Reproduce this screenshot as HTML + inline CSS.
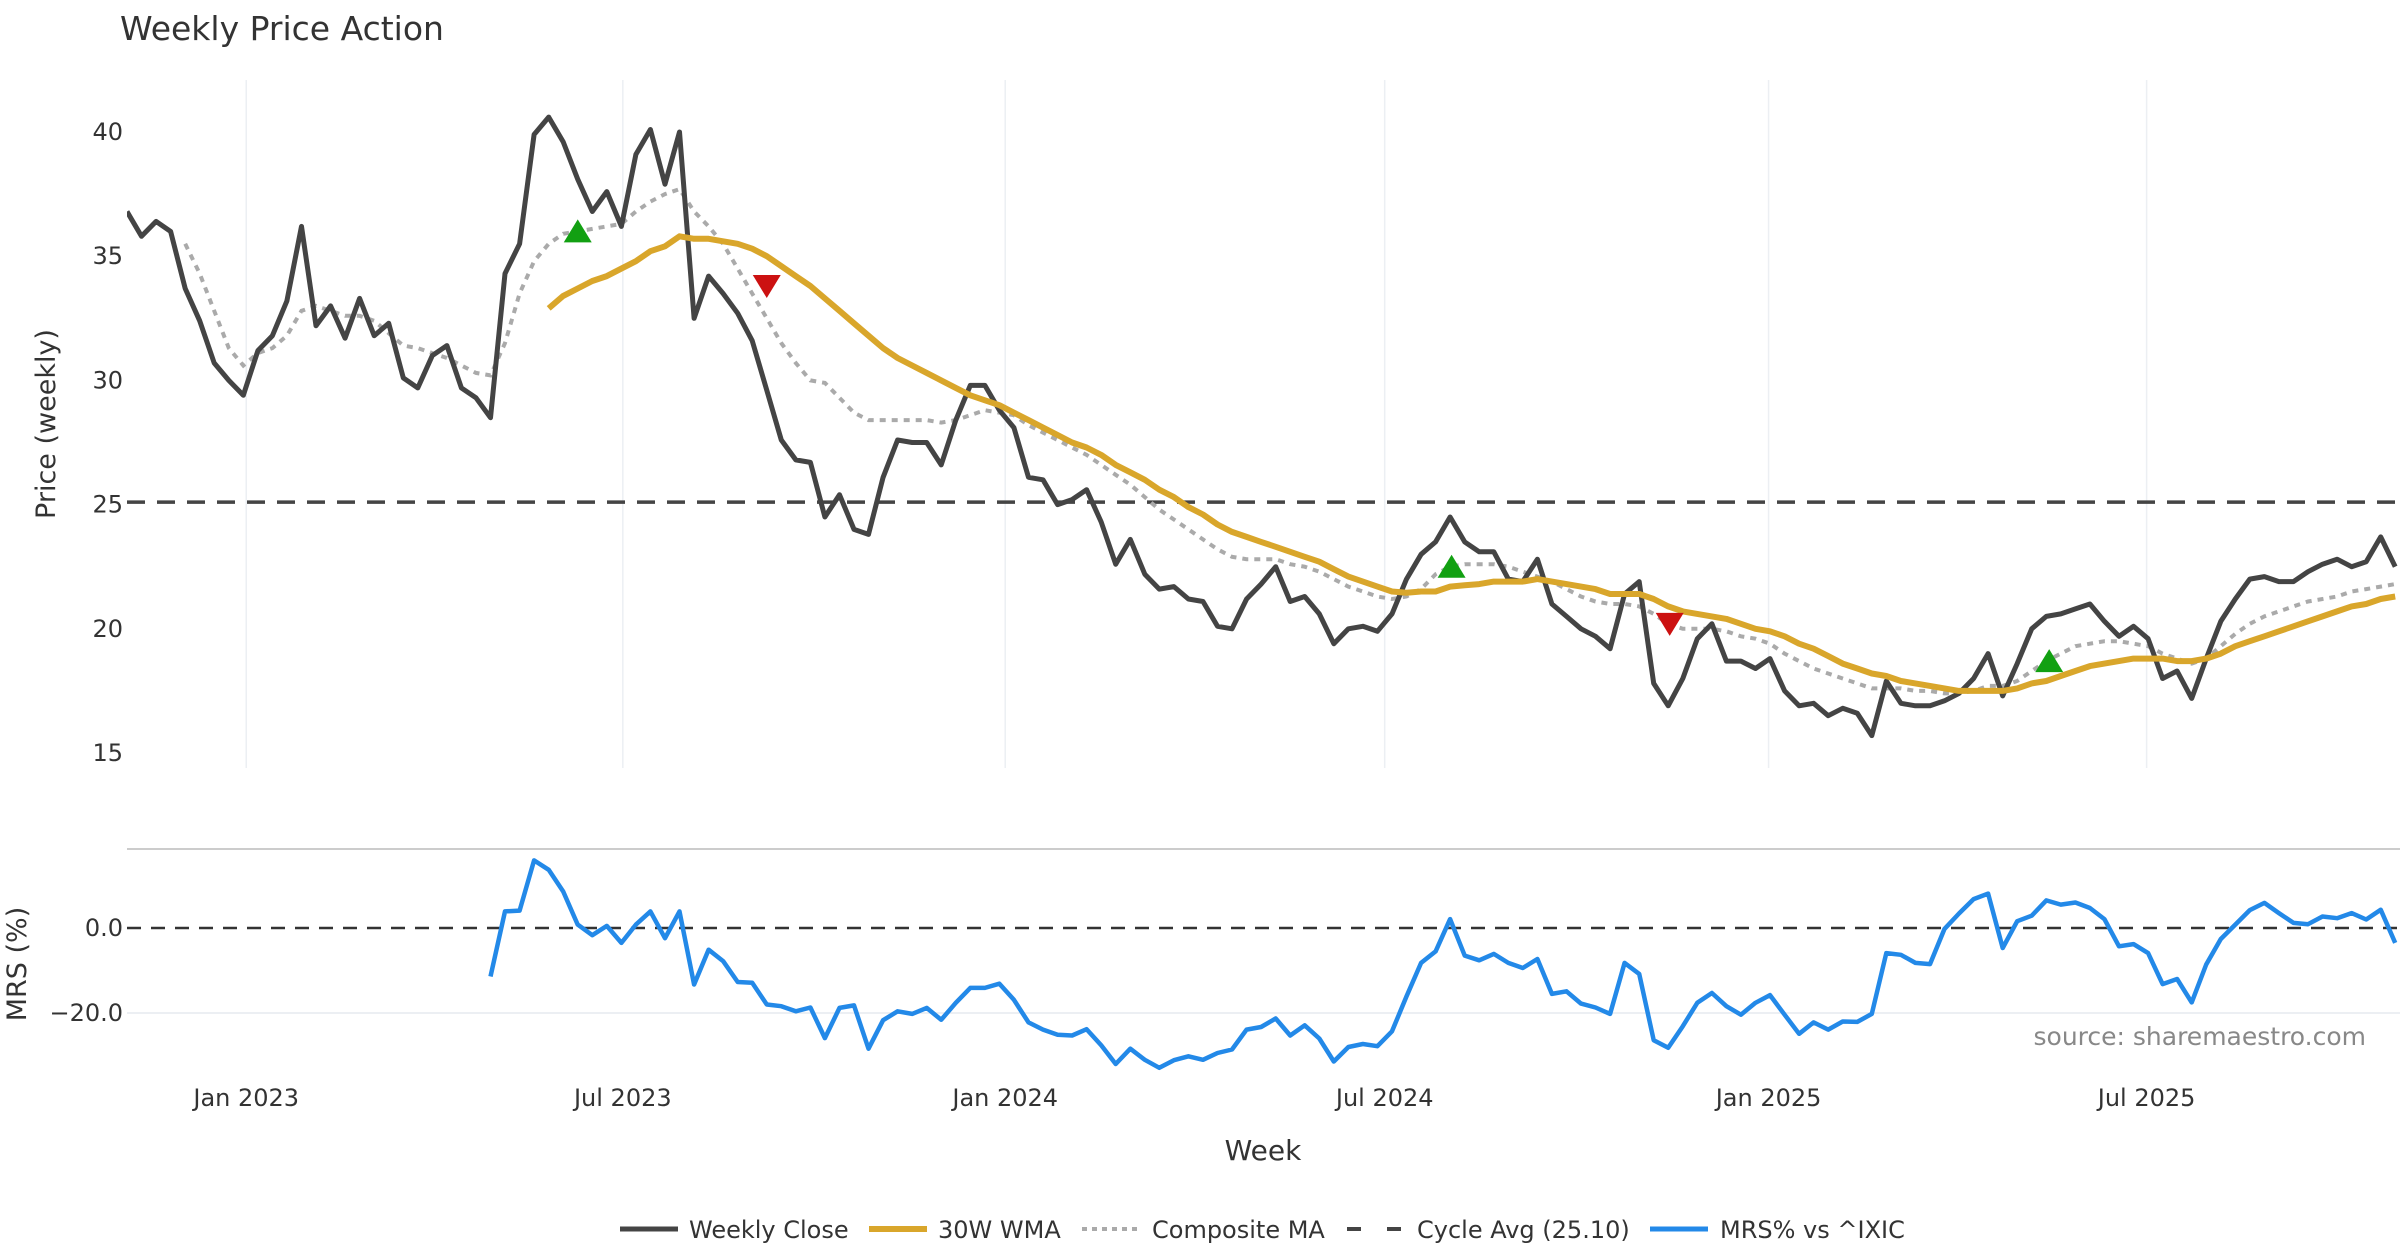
<!DOCTYPE html>
<html><head><meta charset="utf-8"><style>
html,body{margin:0;padding:0;background:#fff;}
svg{display:block;font-family:"DejaVu Sans","Liberation Sans",sans-serif;}
</style></head><body>
<svg id="chart" width="2400" height="1260" viewBox="0 0 2400 1260" xmlns="http://www.w3.org/2000/svg">
<text x="120" y="40" font-size="33" fill="#333">Weekly Price Action</text>
<text transform="translate(55,424) rotate(-90)" text-anchor="middle" font-size="27" fill="#333">Price (weekly)</text>
<text transform="translate(26,964) rotate(-90)" text-anchor="middle" font-size="27" fill="#333">MRS (%)</text>
<text x="1263" y="1160" text-anchor="middle" font-size="28" fill="#333">Week</text>
<text x="2366" y="1045" text-anchor="end" font-size="25" fill="#888">source: sharemaestro.com</text>
<g id="grid"></g><g id="marks"></g><g id="legend"></g>
</svg>
<script>
const closeVals=[36.8,35.8,36.4,36.0,33.7,32.4,30.7,30.0,29.4,31.2,31.8,33.2,36.2,32.2,33.0,31.7,33.3,31.8,32.3,30.1,29.7,31.0,31.4,29.7,29.3,28.5,34.3,35.5,39.9,40.6,39.6,38.1,36.8,37.6,36.2,39.1,40.1,37.9,40.0,32.5,34.2,33.5,32.7,31.6,29.6,27.6,26.8,26.7,24.5,25.4,24.0,23.8,26.1,27.6,27.5,27.5,26.6,28.4,29.8,29.8,28.8,28.1,26.1,26.0,25.0,25.2,25.6,24.3,22.6,23.6,22.2,21.6,21.7,21.2,21.1,20.1,20.0,21.2,21.8,22.5,21.1,21.3,20.6,19.4,20.0,20.1,19.9,20.6,22.0,23.0,23.5,24.5,23.5,23.1,23.1,22.0,21.9,22.8,21.0,20.5,20.0,19.7,19.2,21.4,21.9,17.8,16.9,18.0,19.6,20.2,18.7,18.7,18.4,18.8,17.5,16.9,17.0,16.5,16.8,16.6,15.7,17.9,17.0,16.9,16.9,17.1,17.4,18.0,19.0,17.3,18.6,20.0,20.5,20.6,20.8,21.0,20.3,19.7,20.1,19.6,18.0,18.3,17.2,18.8,20.3,21.2,22.0,22.1,21.9,21.9,22.3,22.6,22.8,22.5,22.7,23.7,22.5];
const wmaStart=29;
const wmaVals=[32.9,33.4,33.7,34.0,34.2,34.5,34.8,35.2,35.4,35.8,35.7,35.7,35.6,35.5,35.3,35.0,34.6,34.2,33.8,33.3,32.8,32.3,31.8,31.3,30.9,30.6,30.3,30.0,29.7,29.4,29.2,29.0,28.7,28.4,28.1,27.8,27.5,27.3,27.0,26.6,26.3,26.0,25.6,25.3,24.9,24.6,24.2,23.9,23.7,23.5,23.3,23.1,22.9,22.7,22.4,22.1,21.9,21.7,21.5,21.45,21.5,21.5,21.7,21.75,21.8,21.9,21.9,21.9,22.0,21.9,21.8,21.7,21.6,21.4,21.4,21.4,21.2,20.9,20.7,20.6,20.5,20.4,20.2,20.0,19.9,19.7,19.4,19.2,18.9,18.6,18.4,18.2,18.1,17.9,17.8,17.7,17.6,17.5,17.5,17.5,17.5,17.6,17.8,17.9,18.1,18.3,18.5,18.6,18.7,18.8,18.8,18.8,18.7,18.7,18.8,19.0,19.3,19.5,19.7,19.9,20.1,20.3,20.5,20.7,20.9,21.0,21.2,21.3];
const compStart=4;
const compVals=[35.5,34.3,32.8,31.3,30.6,31.1,31.3,31.8,32.8,33.0,32.8,32.6,32.6,32.4,31.9,31.4,31.3,31.1,30.9,30.6,30.3,30.2,31.5,33.5,34.8,35.5,35.9,36.0,36.1,36.2,36.3,36.8,37.2,37.5,37.7,36.8,36.2,35.5,34.5,33.5,32.5,31.5,30.7,30.0,29.9,29.3,28.7,28.4,28.4,28.4,28.4,28.4,28.3,28.4,28.6,28.8,28.7,28.6,28.2,27.9,27.6,27.3,27.0,26.6,26.2,25.8,25.3,24.8,24.4,24.0,23.6,23.2,22.9,22.8,22.8,22.8,22.6,22.5,22.3,22.0,21.7,21.5,21.3,21.2,21.3,21.6,22.2,22.5,22.6,22.6,22.6,22.5,22.3,22.1,21.9,21.6,21.3,21.1,21.0,21.0,20.9,20.6,20.2,20.0,20.0,20.0,19.9,19.7,19.6,19.4,19.0,18.7,18.4,18.2,18.0,17.8,17.6,17.6,17.6,17.5,17.5,17.4,17.4,17.5,17.7,17.7,17.9,18.3,18.7,19.0,19.3,19.4,19.5,19.5,19.4,19.3,19.0,18.8,18.6,18.8,19.3,19.8,20.2,20.5,20.7,20.9,21.1,21.2,21.3,21.5,21.6,21.7,21.8];
const cycleAvg=25.10;
const mrsStart=25;
const mrsVals=[-11.4,3.9,4.1,15.9,13.7,8.6,0.8,-1.7,0.5,-3.5,0.8,3.9,-2.4,3.9,-13.3,-5.1,-7.8,-12.7,-12.9,-18.0,-18.4,-19.6,-18.7,-25.9,-18.8,-18.2,-28.4,-21.7,-19.6,-20.2,-18.8,-21.6,-17.6,-14.1,-14.1,-13.1,-16.9,-22.2,-23.9,-25.1,-25.3,-23.8,-27.6,-32.0,-28.4,-31.0,-32.9,-31.1,-30.2,-31.0,-29.4,-28.6,-23.9,-23.3,-21.3,-25.3,-22.9,
-26.0,-31.4,-28.0,-27.3,-27.8,-24.3,-16.1,-8.2,-5.5,2.1,-6.5,-7.6,-6.1,-8.2,-9.4,-7.3,-15.5,-14.9,-17.8,-18.7,-20.2,-8.2,-10.8,-26.4,-28.2,-23.1,-17.6,-15.3,-18.4,-20.4,-17.6,-15.8,-20.4,-24.9,-22.2,-23.9,-22.0,-22.1,-20.2,-5.9,-6.3,-8.2,-8.5,-0.2,3.4,6.8,8.1,-4.7,1.6,2.9,6.5,5.5,6.0,4.7,2.1,-4.3,-3.8,-5.9,-13.2,-12.0,-17.5,-8.6,-2.6,0.8,4.2,5.9,3.5,1.2,0.9,2.7,2.3,3.5,2.0,4.3,-3.5];
const buyIdx=[31.0,91.1,132.2];
const buyVals=[36.0,22.5,18.7];
const sellIdx=[44.0,106.1];
const sellVals=[33.8,20.2];
const priceTicks=[15,20,25,30,35,40];
const mrsTicks=[0,-20];
const mrsTickLabels=["0.0","\u221220.0"];
const xTickIdx=[8.2,34.1,60.4,86.5,112.9,138.9];
const xTickLabels=["Jan 2023","Jul 2023","Jan 2024","Jul 2024","Jan 2025","Jul 2025"];

const NS="http://www.w3.org/2000/svg";
const X=i=>127+i*14.54;
const Y=v=>132+(40-v)*24.84;
const M=v=>928-v*4.25;
const grid=document.getElementById('grid'),marks=document.getElementById('marks'),legend=document.getElementById('legend');
function mk(tag,attrs,parent){const e=document.createElementNS(NS,tag);for(const k in attrs)e.setAttribute(k,attrs[k]);parent.appendChild(e);return e;}
function pts(vals,start,fy){return vals.map((v,k)=>X(start+k).toFixed(1)+','+fy(v).toFixed(1)).join(' ');}

const defs=mk('defs',{},document.getElementById('chart'));
const cp=mk('clipPath',{id:'plotclip'},defs);mk('rect',{x:127,y:60,width:2273,height:1060},cp);
marks.setAttribute('clip-path','url(#plotclip)');

xTickIdx.forEach((t,k)=>{
 let l=mk('line',{x1:X(t),x2:X(t),y1:80,y2:768,stroke:'#eceff3','stroke-width':1.5},grid);
 
 
 let tx=mk('text',{x:X(t),y:1106,'text-anchor':'middle','font-size':24,fill:'#333'},grid);
 tx.textContent=xTickLabels[k];
 
 
});
priceTicks.forEach(v=>{
 let tx=mk('text',{x:123,y:Y(v)+8,'text-anchor':'end','font-size':24,fill:'#333'},grid);
 tx.textContent=String(v);
 
 
});
let sep=mk('line',{x1:127,x2:2400,y1:849,y2:849,stroke:'#cccccc','stroke-width':2},grid);


mrsTicks.forEach((v,k)=>{
 if(v!==0){let g=mk('line',{x1:127,x2:2400,y1:M(v),y2:M(v),stroke:'#eceff3','stroke-width':2},grid);
 
 }
 let tx=mk('text',{x:123,y:M(v)+8,'text-anchor':'end','font-size':24,fill:'#333'},grid);
 tx.textContent=mrsTickLabels[k];
 
 
});

let cyc=mk('line',{x1:127,x2:2400,y1:Y(cycleAvg),y2:Y(cycleAvg),stroke:'#444','stroke-width':3.5,'stroke-dasharray':'18 12'},marks);


let comp=mk('polyline',{points:pts(compVals,compStart,Y),fill:'none',stroke:'#aaaaaa','stroke-width':4,'stroke-dasharray':'6 6'},marks);


let cl=mk('polyline',{points:pts(closeVals,0,Y),fill:'none',stroke:'#444','stroke-width':5,'stroke-linejoin':'round'},marks);


let wma=mk('polyline',{points:pts(wmaVals,wmaStart,Y),fill:'none',stroke:'#d9a62b','stroke-width':6,'stroke-linejoin':'round'},marks);


buyIdx.forEach((t,k)=>{const x=X(t),y=Y(buyVals[k]);
 let p=mk('polygon',{points:`${x-14},${y+11} ${x+14},${y+11} ${x},${y-12}`,fill:'#12a012'},marks);
 
 });
sellIdx.forEach((t,k)=>{const x=X(t),y=Y(sellVals[k]);
 let p=mk('polygon',{points:`${x-14},${y-11} ${x+14},${y-11} ${x},${y+12}`,fill:'#cc1111'},marks);
 
 });
let zl=mk('line',{x1:127,x2:2400,y1:M(0),y2:M(0),stroke:'#333','stroke-width':2.5,'stroke-dasharray':'14 10'},marks);


let mrs=mk('polyline',{points:pts(mrsVals,mrsStart,M),fill:'none',stroke:'#2389e8','stroke-width':4.5,'stroke-linejoin':'round'},marks);



const legItems=[["Weekly Close",620,58,689,{stroke:'#444','stroke-width':5}],["30W WMA",869,58,938,{stroke:'#d9a62b','stroke-width':6}],["Composite MA",1082,58,1152,{stroke:'#aaa','stroke-width':4,'stroke-dasharray':'5 5'}],["Cycle Avg (25.10)",1347,54,1417,{stroke:'#444','stroke-width':4,'stroke-dasharray':'14 26'}],["MRS% vs ^IXIC",1650,58,1720,{stroke:'#2389e8','stroke-width':5}]];
legItems.forEach(([lab,x,w,tx,st])=>{
 const g=mk('g',{},legend);
 
 
 mk('line',Object.assign({x1:x,x2:x+w,y1:1229,y2:1229},st),g);
 const t=mk('text',{x:tx,y:1238,'font-size':24,fill:'#333'},g);t.textContent=lab;
});
</script>
</body></html>
